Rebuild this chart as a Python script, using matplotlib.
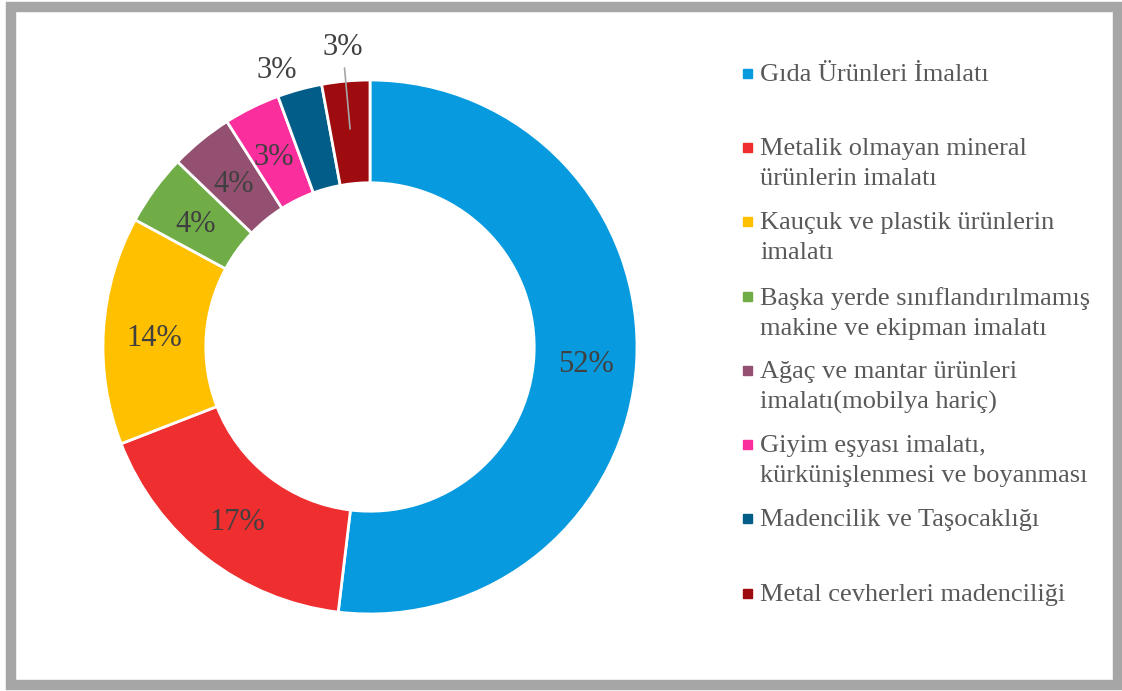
import numpy as np
import matplotlib
matplotlib.use("Agg")
import matplotlib.pyplot as plt
from matplotlib.patches import Rectangle

plt.rcParams['font.family'] = ['Liberation Serif', 'DejaVu Serif']

# veri: sektor paylari (%)
categories = [
    "Gıda Ürünleri İmalatı",
    "Metalik olmayan mineral\nürünlerin imalatı",
    "Kauçuk ve plastik ürünlerin\nimalatı",
    "Başka yerde sınıflandırılmamış\nmakine ve ekipman imalatı",
    "Ağaç ve mantar ürünleri\nimalatı(mobilya hariç)",
    "Giyim eşyası imalatı,\nkürkünişlenmesi ve boyanması",
    "Madencilik ve Taşocaklığı",
    "Metal cevherleri madenciliği",
]
shares = [51.9, 17.2, 13.8, 4.3, 3.8, 3.4, 2.7, 2.9]
colors = ["#089ADE", "#EF2E30", "#FFC000", "#70AD47",
          "#945070", "#FA2E9C", "#035D89", "#9E0C0F"]

W, H = 1122, 691
fig = plt.figure(figsize=(W / 100, H / 100), dpi=100)

# donut
cx, cy, R = 370, 347, 267
ax = fig.add_axes([(cx - R) / W, (H - cy - R) / H, 2 * R / W, 2 * R / H])
wedges, _ = ax.pie(shares, colors=colors, startangle=90, counterclock=False,
                   radius=1.0,
                   wedgeprops=dict(width=0.385, edgecolor="white", linewidth=2))
ax.set_xlim(-1, 1)
ax.set_ylim(-1, 1)
ax.axis("off")

total = sum(shares)
cum = np.cumsum([0] + shares)
dy = -0.018  # metin dikey ofseti
for i, v in enumerate(shares):
    mid = 90 - 360 * (cum[i] + v / 2) / total
    a = np.deg2rad(mid)
    txt = "%d%%" % round(v)
    if i < 6:
        r = 0.81
        ax.text(r * np.cos(a), r * np.sin(a) + dy, txt, ha="center", va="center",
                fontsize=22, color="#404040")
    elif i == 6:
        a = np.deg2rad(mid + 3)
        ax.text(1.11 * np.cos(a), 1.11 * np.sin(a) + dy, txt, ha="center",
                va="center", fontsize=22, color="#404040")
    else:
        ax.annotate(txt, xy=(0.82 * np.cos(a), 0.82 * np.sin(a)),
                    xytext=(1.125 * np.cos(a), 1.125 * np.sin(a)),
                    ha="center", va="center", fontsize=22, color="#404040",
                    arrowprops=dict(arrowstyle="-", color="#A6A6A6", lw=1.2,
                                    shrinkA=2, shrinkB=0))

# legend + cerceve (piksel koordinatlari)
lg = fig.add_axes([0, 0, 1, 1])
lg.set_xlim(0, W)
lg.set_ylim(H, 0)
lg.axis("off")
lg.patch.set_alpha(0)

ys = [73, 147, 221, 296, 370, 444, 518, 593]
for y, lab, c in zip(ys, categories, colors):
    lg.add_patch(Rectangle((743, y - 4.5), 9, 9, color=c))
    lg.text(760, y - 9, lab, ha="left", va="top", fontsize=19,
            color="#595959", linespacing=1.45)

lg.add_patch(Rectangle((11, 7), 1107, 678, fill=False, edgecolor="#A6A6A6",
                       linewidth=7.5, joinstyle="miter"))

fig.savefig("out.png", dpi=100)
